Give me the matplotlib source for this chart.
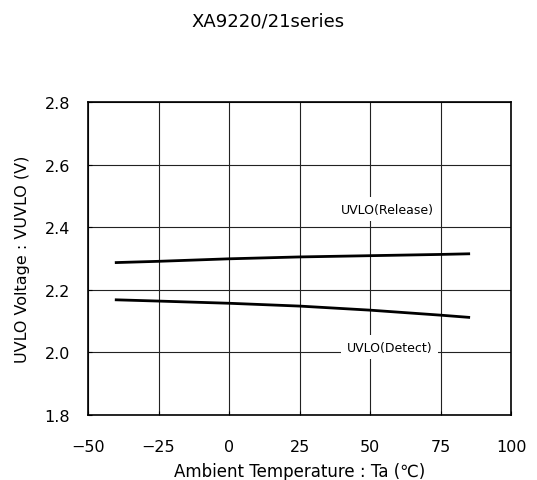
import numpy as np
import matplotlib
matplotlib.use('Agg')
import matplotlib.pyplot as plt

plt.rcParams['font.family'] = ['DejaVu Sans', 'Noto Sans CJK JP']

# curve data
temp = [-40, -25, 0, 25, 50, 75, 85]
release = [2.287, 2.291, 2.299, 2.305, 2.309, 2.313, 2.315]
detect = [2.168, 2.164, 2.157, 2.148, 2.135, 2.119, 2.112]

xticks = [-50, -25, 0, 25, 50, 75, 100]
yticks = [1.8, 2.0, 2.2, 2.4, 2.6, 2.8]

fig = plt.figure(figsize=(5.37, 4.81), dpi=100)
ax = fig.add_axes([0.1639, 0.1351, 0.7877, 0.6508])

ax.plot(temp, release, color='black', lw=2)
ax.plot(temp, detect, color='black', lw=2)

ax.set_xlim(-50, 100)
ax.set_ylim(1.8, 2.8)
ax.set_xticks(xticks)
ax.set_yticks(yticks)
ax.set_xticklabels(['\u2212%d' % -v if v < 0 else '%d' % v for v in xticks])
ax.set_yticklabels(['%.1f' % v for v in yticks])
ax.grid(True, color='#222222', lw=0.8)
ax.tick_params(direction='in', length=3, labelsize=11.5, color='black')
ax.tick_params(axis='x', pad=17)
ax.tick_params(axis='y', pad=13)
for s in ax.spines.values():
    s.set_linewidth(1.2)

box = dict(facecolor='white', edgecolor='none', pad=4)
ax.text(56, 2.458, 'UVLO(Release)', ha='center', va='center', fontsize=9, bbox=box)
ax.text(57, 2.017, 'UVLO(Detect)', ha='center', va='center', fontsize=9, bbox=box)

ax.set_xlabel('Ambient Temperature : Ta (℃)', fontsize=12, labelpad=6)
ax.set_ylabel('UVLO Voltage : VUVLO (V)', fontsize=11.5, labelpad=10)
fig.text(0.5, 1 - 22 / 481, 'XA9220/21series', ha='center', va='center', fontsize=13)

fig.savefig('out.png', dpi=100)
